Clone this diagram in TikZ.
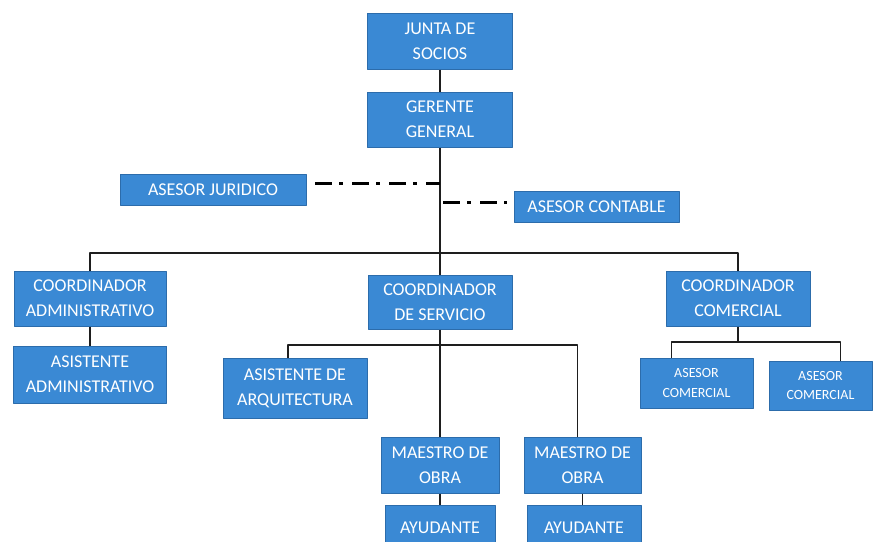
\documentclass[tikz,border=0pt]{standalone}
\usepackage{fontspec}
\setmainfont{Carlito}
\definecolor{boxblue}{HTML}{3A89D4}
\definecolor{boxedge}{HTML}{2C6CAB}
\definecolor{linegray}{HTML}{1E1E1E}

\begin{document}
\begin{tikzpicture}[x=1pt, y=-1pt, line join=round,
box/.style={draw=boxedge, line width=1pt, fill=boxblue, text=white, align=center, inner sep=0pt, font=\fontsize{18}{25}\selectfont},
sbox/.style={box, font=\fontsize{14}{20}\selectfont},
conn/.style={draw=linegray, line width=1.8pt},
dashline/.style={draw=black, line width=3pt, dash pattern=on 17pt off 7pt on 4pt off 9pt}]

\useasboundingbox (0,0) rectangle (873,541);
\clip (0,0) rectangle (873,541);

% Top of the chart
\node[box, minimum width=145, minimum height=56] (junta) at (440,41) {JUNTA DE\\SOCIOS};
\node[box, minimum width=145, minimum height=55] (gerente) at (440,119.5) {GERENTE\\GENERAL};
\node[box, minimum width=186, minimum height=31] (juridico) at (213,189.5) {ASESOR JURIDICO};
\node[box, minimum width=165, minimum height=31] (contable) at (596.5,206.5) {ASESOR CONTABLE};

% Coordinators
\node[box, minimum width=152, minimum height=55] (cadm) at (90,298.5) {COORDINADOR\\ADMINISTRATIVO};
\node[box, minimum width=144, minimum height=54] (cserv) at (440,302) {COORDINADOR\\DE SERVICIO};
\node[box, minimum width=144, minimum height=55] (ccom) at (738,298.5) {COORDINADOR\\COMERCIAL};

% Staff under the coordinators
\node[box, minimum width=153, minimum height=57] (aadm) at (90,374.5) {ASISTENTE\\ADMINISTRATIVO};
\node[box, minimum width=144, minimum height=60] (arq) at (295,388) {ASISTENTE DE\\ARQUITECTURA};
\node[box, minimum width=118, minimum height=56] (mobra1) at (440,465) {MAESTRO DE\\OBRA};
\node[box, minimum width=117, minimum height=56] (mobra2) at (582.5,465) {MAESTRO DE\\OBRA};
\node[box, minimum width=110, minimum height=46] (ayud1) at (440,528) {AYUDANTE};
\node[box, minimum width=114, minimum height=46] (ayud2) at (584,528) {AYUDANTE};
\node[sbox, minimum width=113, minimum height=50] (acom1) at (696.5,383) {ASESOR\\COMERCIAL};
\node[sbox, minimum width=103, minimum height=49] (acom2) at (820.5,385.5) {ASESOR\\COMERCIAL};

% Main line and bus
\coordinate (bus) at (440,253);
\draw[conn] (junta.south) -- (gerente.north);
\draw[conn] (gerente.south) -- (cserv.north);
\draw[conn] (cadm.north) |- (bus) -| (ccom.north);
\draw[conn] (cadm.south) -- (aadm.north);

% Advisors
\coordinate (jleft) at (315,183);
\coordinate (jright) at (440,183);
\coordinate (cleft) at (443,202);
\coordinate (cright) at (507,202);
\draw[dashline] (jleft) -- (jright);
\draw[dashline] (cleft) -- (cright);

% Service branch
\coordinate (sbus) at (440,345);
\draw[conn] (cserv.south) -- (mobra1.north);
\draw[conn] ([xshift=-7pt]arq.north) |- (sbus) -| ([xshift=-5pt]mobra2.north);
\draw[conn] (mobra1.south) -- (ayud1.north);
\draw[conn] (mobra2.south) -- (mobra2.south |- ayud2.north);

% Commercial branch
\coordinate (cbus) at (739,342);
\draw[conn] (ccom.south) -- (ccom.south |- cbus);
\draw[conn] ([xshift=-25pt]acom1.north) |- (cbus) -| ([xshift=20pt]acom2.north);

\end{tikzpicture}
\end{document}
